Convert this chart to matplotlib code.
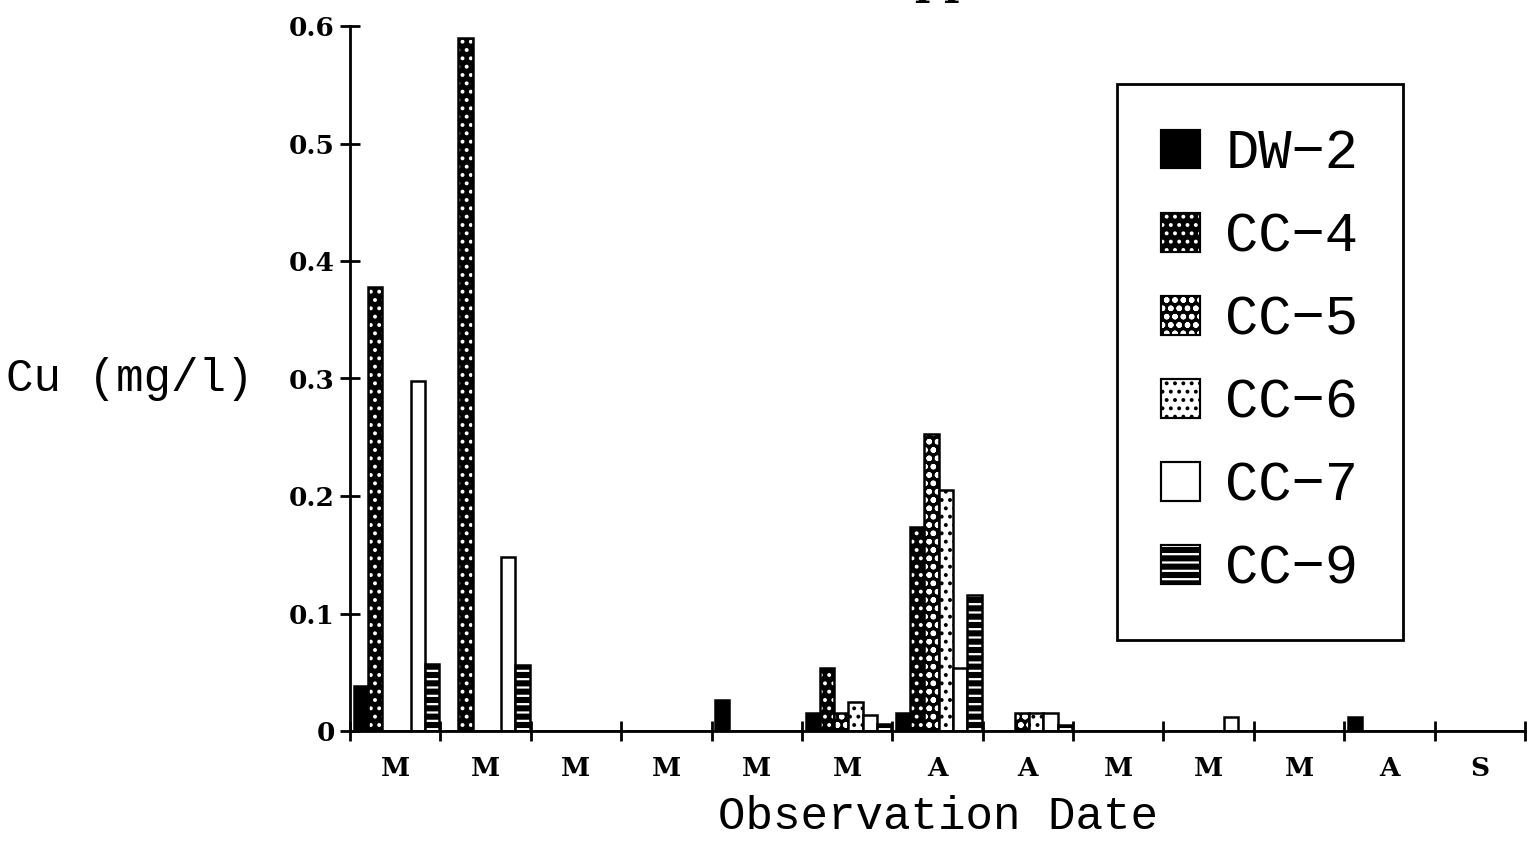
import matplotlib.pyplot as plt
from matplotlib.patches import Patch
from matplotlib.legend_handler import HandlerTuple
import numpy as np

# copper concentration per well, one value per observation date
dates = ['M', 'M', 'M', 'M', 'M', 'M', 'A', 'A', 'M', 'M', 'M', 'A', 'S']
wells = ['DW\u22122', 'CC\u22124', 'CC\u22125', 'CC\u22126', 'CC\u22127', 'CC\u22129']
dw2 = [0.038, 0, 0, 0, 0.026, 0.015, 0.015, 0, 0, 0, 0, 0.012, 0]
cc4 = [0.378, 0.590, 0, 0, 0, 0.054, 0.174, 0, 0, 0, 0, 0, 0]
cc5 = [0, 0, 0, 0, 0, 0.015, 0.253, 0.015, 0, 0, 0, 0, 0]
cc6 = [0, 0, 0, 0, 0, 0.025, 0.205, 0.015, 0, 0, 0, 0, 0]
cc7 = [0.298, 0.148, 0, 0, 0, 0.014, 0.054, 0.015, 0, 0.012, 0, 0, 0]
cc9 = [0.057, 0.056, 0, 0, 0, 0.006, 0.116, 0.005, 0, 0, 0, 0, 0]

series = [dw2, cc4, cc5, cc6, cc7, cc9]
# (face, hatch, hatch colour)
styles = [
    ('black', None, None),
    ('black', '..', 'white'),
    ('black', 'oo', 'white'),
    ('white', '..', 'black'),
    ('white', None, None),
    ('black', '--', 'white'),
]

plt.rcParams['hatch.linewidth'] = 1.6

fig = plt.figure(figsize=(15.34, 8.55), dpi=100)
ax = fig.add_axes([350 / 1534, 1 - 731 / 855, 1175 / 1534, 705 / 855])

x = np.arange(len(dates))
w = 0.158
off = 0.04
handles = []
for k, (vals, (fc, hatch, hc)) in enumerate(zip(series, styles)):
    left = x + off + k * w
    ax.bar(left, vals, width=w, align='edge', color=fc, linewidth=0)
    if hatch:
        ax.bar(left, vals, width=w, align='edge', facecolor='none',
               edgecolor=hc, hatch=hatch, linewidth=0)
    ax.bar(left, vals, width=w, align='edge', facecolor='none',
           edgecolor='black', linewidth=1.8)
    parts = [Patch(facecolor=fc, edgecolor='black', linewidth=1.5)]
    if hatch:
        parts.append(Patch(facecolor='none', edgecolor=hc, hatch=hatch, linewidth=0))
    parts.append(Patch(facecolor='none', edgecolor='black', linewidth=1.5))
    handles.append(tuple(parts))

ax.set_xlim(0, len(dates))
ax.set_ylim(0, 0.6)
for s in ['top', 'right']:
    ax.spines[s].set_visible(False)
ax.spines['left'].set_linewidth(2)
ax.spines['bottom'].set_linewidth(2)

tick_font = dict(family='DejaVu Serif', weight='bold', size=19)
ax.set_yticks(np.arange(0, 0.61, 0.1))
ax.set_yticklabels(['0', '0.1', '0.2', '0.3', '0.4', '0.5', '0.6'], **tick_font)
ax.tick_params(axis='y', direction='inout', length=14, width=2, pad=4)

ax.set_xticks(np.arange(0, len(dates) + 1))
ax.set_xticklabels([])
ax.set_xticks(x + 0.5, minor=True)
ax.set_xticklabels(dates, minor=True, **tick_font)
ax.tick_params(axis='x', which='major', direction='inout', length=14, width=2)
ax.tick_params(axis='x', which='minor', length=0, pad=18)

label_font = dict(family='Liberation Mono', size=33)
ax.set_xlabel('Observation Date', labelpad=10, **label_font)
ax.set_ylabel('Cu (mg/l)', rotation=0, ha='right', va='center', **label_font)
ax.yaxis.set_label_coords(-0.082, 0.5)

leg = ax.legend(handles, wells, handler_map={tuple: HandlerTuple(ndivide=1)},
                loc='upper left', bbox_to_anchor=((1117 - 350) / 1175, (731 - 84) / 705),
                prop=dict(family='Liberation Mono', size=40),
                handlelength=0.7, handleheight=0.7, labelspacing=0.56,
                handletextpad=0.45, borderpad=0.8, borderaxespad=0,
                fancybox=False, framealpha=1, edgecolor='black')
leg.get_frame().set_linewidth(2)

fig.text(938 / 1534, 1.007, 'Copper', ha='center', va='baseline',
         family='DejaVu Serif', weight='bold', size=30)

fig.savefig('out.png', dpi=100)
